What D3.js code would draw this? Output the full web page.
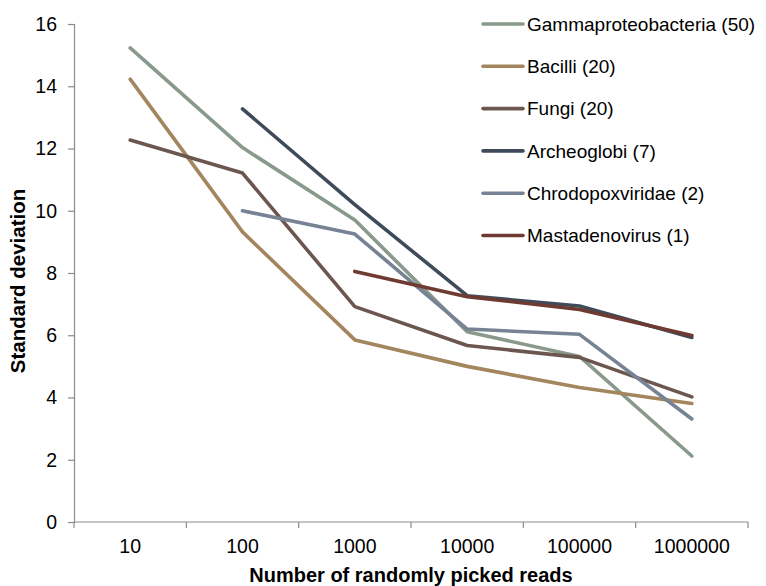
<!DOCTYPE html>
<html>
<head>
<meta charset="utf-8">
<script src="https://cdn.jsdelivr.net/npm/d3@7"></script>
<style>
  body { margin: 0; background: #fff; }
  text { font-family: 'Liberation Sans', Arial, sans-serif; fill: #000; }
</style>
</head>
<body>
<div id="chart"></div>
<script>
const categories = ['10', '100', '1000', '10000', '100000', '1000000'];
const yTicks = [0, 2, 4, 6, 8, 10, 12, 14, 16];

const seriesNames = [
  'Gammaproteobacteria (50)', 'Bacilli (20)', 'Fungi (20)',
  'Archeoglobi (7)', 'Chrodopoxviridae (2)', 'Mastadenovirus (1)',
];
const seriesColors = ['#899a8d', '#a3865d', '#6b574f', '#3f4b5a', '#778394', '#6e3a31'];

// null = no value at that read count
const gamma = [15.23, 12.03, 9.7, 6.11, 5.32, 2.12];
const bacilli = [14.23, 9.32, 5.85, 5.0, 4.32, 3.81];
const fungi = [12.27, 11.21, 6.92, 5.67, 5.29, 4.02];
const archeo = [null, 13.27, 10.2, 7.27, 6.94, 5.93];
const chrodo = [null, 10.0, 9.25, 6.2, 6.03, 3.31];
const masta = [null, null, 8.05, 7.24, 6.83, 5.99];

const seriesValues = [gamma, bacilli, fungi, archeo, chrodo, masta];

const W = 766;
const H = 586;
const margin = { top: 24, right: 18, bottom: 64, left: 74 };
const width = W - margin.left - margin.right;
const height = H - margin.top - margin.bottom;

const svg = d3.select('#chart').append('svg')
  .attr('width', W)
  .attr('height', H);

const g = svg.append('g')
  .attr('transform', `translate(${margin.left},${margin.top})`);

const xScale = d3.scaleBand()
  .domain(categories)
  .range([0, width]);

const yScale = d3.scaleLinear()
  .domain([0, 16])
  .range([height, 0]);

// y axis
const yAxis = d3.axisLeft(yScale).tickValues(yTicks).tickSize(6).tickPadding(11);
const yG = g.append('g').call(yAxis);
yG.select('.domain').attr('stroke', '#8c8c8c').attr('stroke-width', 1.2);
yG.selectAll('.tick line').attr('stroke', '#8c8c8c').attr('stroke-width', 1.2);
yG.selectAll('.tick text')
  .style('font-size', '19.5px')
  .style('font-family', "'Liberation Sans', Arial, sans-serif")
  .attr('fill', '#000');

// x axis: labels at band centres, ticks at band edges
const xG = g.append('g')
  .attr('transform', `translate(0,${height})`);
xG.append('line')
  .attr('x1', 0).attr('x2', width)
  .attr('stroke', '#8c8c8c').attr('stroke-width', 1.2);
const edges = categories.map(c => xScale(c)).concat([width]);
xG.selectAll('.xtick').data(edges).enter().append('line')
  .attr('class', 'xtick')
  .attr('x1', d => d).attr('x2', d => d)
  .attr('y1', 0).attr('y2', 6)
  .attr('stroke', '#8c8c8c').attr('stroke-width', 1.2);
xG.selectAll('.xlabel').data(categories).enter().append('text')
  .attr('class', 'xlabel')
  .attr('x', d => xScale(d) + xScale.bandwidth() / 2)
  .attr('y', 31)
  .attr('text-anchor', 'middle')
  .style('font-size', '19.5px')
  .text(d => d);

// axis titles
svg.append('text')
  .attr('x', margin.left + width / 2)
  .attr('y', 581.5)
  .attr('text-anchor', 'middle')
  .style('font-size', '20px')
  .style('font-weight', 'bold')
  .text('Number of randomly picked reads');

svg.append('text')
  .attr('transform', `translate(25,${margin.top + height / 2 + 8}) rotate(-90)`)
  .attr('text-anchor', 'middle')
  .style('font-size', '20.5px')
  .style('font-weight', 'bold')
  .text('Standard deviation');

// lines
const plotLine = d3.line()
  .defined(d => d.v !== null)
  .x(d => xScale(d.c) + xScale.bandwidth() / 2)
  .y(d => yScale(d.v));

seriesValues.forEach((vals, i) => {
  const pts = categories.map((c, j) => ({ c, v: vals[j] }));
  g.append('path')
    .datum(pts)
    .attr('d', plotLine)
    .attr('fill', 'none')
    .attr('stroke', seriesColors[i])
    .attr('stroke-width', 3.6)
    .attr('stroke-linejoin', 'round')
    .attr('stroke-linecap', 'round');
});

// legend
const legend = svg.append('g').attr('transform', 'translate(482,24)');
const rows = legend.selectAll('.row').data(seriesNames).enter().append('g')
  .attr('class', 'row')
  .attr('transform', (d, i) => `translate(0,${i * 42.3})`);
rows.append('line')
  .attr('x1', 1).attr('x2', 41)
  .attr('stroke', (d, i) => seriesColors[i])
  .attr('stroke-width', 3.6)
  .attr('stroke-linecap', 'round');
rows.append('text')
  .attr('x', 45)
  .attr('y', 6.8)
  .style('font-size', '19px')
  .text(d => d);
</script>
</body>
</html>
